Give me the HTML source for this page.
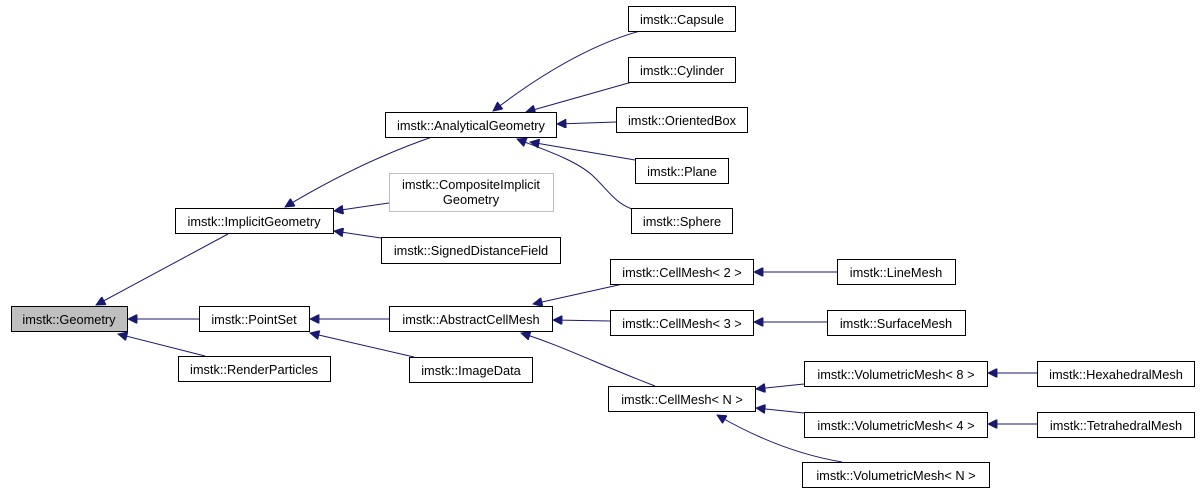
<!DOCTYPE html>
<html><head><meta charset="utf-8"><style>
html,body{margin:0;padding:0;background:#fff;}
svg{display:block;}
text{font-family:"Liberation Sans",sans-serif;font-size:12.8px;fill:#000;text-anchor:middle;}
rect{fill:#fff;stroke:#000;stroke-width:1;}
path.e{fill:none;stroke:#191970;stroke-width:1;marker-start:url(#a);}
</style></head><body>
<svg width="1200" height="493" viewBox="0 0 1200 493" xmlns="http://www.w3.org/2000/svg">
<defs><marker id="a" viewBox="0 0 10 10" refX="10" refY="5" markerUnits="userSpaceOnUse" markerWidth="13" markerHeight="9" orient="auto-start-reverse"><path d="M0,0 L10,5 L0,10 z" fill="#191970" stroke="#191970"/></marker></defs>
<path class="e" d="M493,111 C540,75 590,45 640,31"/>
<path class="e" d="M526,112 L632,82"/>
<path class="e" d="M557,124 L616,122"/>
<path class="e" d="M530,142 L635,160"/>
<path class="e" d="M517,139 C545,150 575,160 592,175 C608,190 615,203 632,209"/>
<path class="e" d="M285,207 C330,180 380,155 432,137"/>
<path class="e" d="M334,211 L389,203"/>
<path class="e" d="M334,231 L381,238"/>
<path class="e" d="M96,305 L228,234"/>
<path class="e" d="M128,319 L199,319"/>
<path class="e" d="M118,334 L205,356"/>
<path class="e" d="M310,319 L389,319"/>
<path class="e" d="M310,333 L414,357"/>
<path class="e" d="M533,304 L623,284"/>
<path class="e" d="M553,320 L610,321"/>
<path class="e" d="M521,333 C560,345 600,365 655,386"/>
<path class="e" d="M754,272 L837,272"/>
<path class="e" d="M754,322 L827,322"/>
<path class="e" d="M756,389 L804,384"/>
<path class="e" d="M756,408 L804,413"/>
<path class="e" d="M717,415 C760,440 800,455 842,462"/>
<path class="e" d="M988,373 L1037,373"/>
<path class="e" d="M988,424 L1037,424"/>
<rect x="11.5" y="306.5" width="116" height="25" style="fill:#bfbfbf"/><text x="69" y="324">imstk::Geometry</text>
<rect x="175.5" y="208.5" width="158" height="25"/><text x="254" y="226">imstk::ImplicitGeometry</text>
<rect x="199.5" y="306.5" width="110" height="25"/><text x="254" y="324">imstk::PointSet</text>
<rect x="178.5" y="356.5" width="152" height="25"/><text x="254" y="374">imstk::RenderParticles</text>
<rect x="385.5" y="112.5" width="171" height="25"/><text x="471" y="130">imstk::AnalyticalGeometry</text>
<rect x="389.5" y="173.5" width="164" height="38" style="stroke:#bfbfbf"/><text x="471" y="189">imstk::CompositeImplicit</text><text x="471" y="204">Geometry</text>
<rect x="381.5" y="237.5" width="179" height="26"/><text x="471" y="255">imstk::SignedDistanceField</text>
<rect x="628.5" y="6.5" width="107" height="25"/><text x="682" y="24">imstk::Capsule</text>
<rect x="628.5" y="57.5" width="107" height="25"/><text x="682" y="75">imstk::Cylinder</text>
<rect x="616.5" y="107.5" width="131" height="25"/><text x="682" y="125">imstk::OrientedBox</text>
<rect x="635.5" y="158.5" width="93" height="25"/><text x="682" y="176">imstk::Plane</text>
<rect x="631.5" y="208.5" width="101" height="25"/><text x="682" y="226">imstk::Sphere</text>
<rect x="389.5" y="306.5" width="163" height="25"/><text x="471" y="324">imstk::AbstractCellMesh</text>
<rect x="409.5" y="357.5" width="123" height="25"/><text x="471" y="375">imstk::ImageData</text>
<rect x="610.5" y="259.5" width="143" height="25"/><text x="682" y="277">imstk::CellMesh&lt; 2 &gt;</text>
<rect x="610.5" y="310.5" width="143" height="25"/><text x="682" y="328">imstk::CellMesh&lt; 3 &gt;</text>
<rect x="608.5" y="386.5" width="147" height="25"/><text x="682" y="404">imstk::CellMesh&lt; N &gt;</text>
<rect x="837.5" y="259.5" width="118" height="25"/><text x="896" y="277">imstk::LineMesh</text>
<rect x="827.5" y="310.5" width="138" height="25"/><text x="896" y="328">imstk::SurfaceMesh</text>
<rect x="804.5" y="361.5" width="183" height="25"/><text x="896" y="379">imstk::VolumetricMesh&lt; 8 &gt;</text>
<rect x="804.5" y="412.5" width="183" height="25"/><text x="896" y="430">imstk::VolumetricMesh&lt; 4 &gt;</text>
<rect x="802.5" y="462.5" width="187" height="25"/><text x="896" y="480">imstk::VolumetricMesh&lt; N &gt;</text>
<rect x="1037.5" y="361.5" width="157" height="25"/><text x="1116" y="379">imstk::HexahedralMesh</text>
<rect x="1037.5" y="412.5" width="157" height="25"/><text x="1116" y="430">imstk::TetrahedralMesh</text>
</svg>
</body></html>
